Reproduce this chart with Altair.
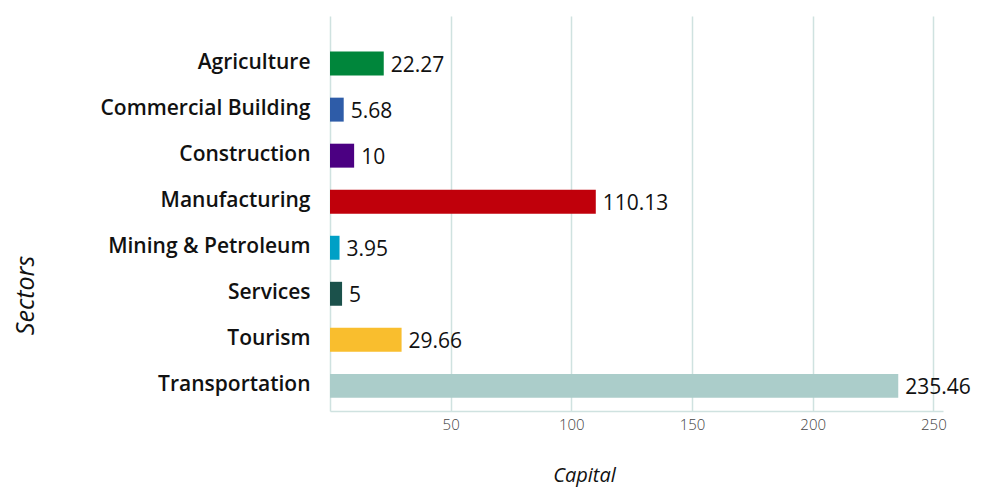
import altair as alt
import pandas as pd

sectors = ["Agriculture", "Commercial Building", "Construction", "Manufacturing",
           "Mining & Petroleum", "Services", "Tourism", "Transportation"]
capital = [22.27, 5.68, 10, 110.13, 3.95, 5, 29.66, 235.46]
labels = ["22.27", "5.68", "10", "110.13", "3.95", "5", "29.66", "235.46"]
colors = ["#00863b", "#2e5ca8", "#4b0082", "#c0000b", "#00a0c6", "#1b514b", "#f9be2e", "#abcdca"]
x_ticks = [50, 100, 150, 200, 250]

df = pd.DataFrame({"Sector": sectors, "Capital": capital, "Label": labels})

FONT = "Open Sans"
GRID = "#cfe2e0"

y_enc = alt.Y("Sector:N", sort=sectors,
              scale=alt.Scale(paddingInner=0.48, paddingOuter=0.53, align=0.73),
              axis=alt.Axis(title="Sectors", titleFont=FONT, titleFontSize=25,
                            titleFontStyle="italic", titleFontWeight="normal",
                            titleColor="#111", titleX=-292, titleY=279,
                            labelFont=FONT, labelFontSize=21, labelFontWeight=600,
                            labelColor="#111", labelPadding=20, ticks=False,
                            domainColor=GRID, domainWidth=1.5, labelBaseline="middle",
                            labelOffset=-1, labelLimit=400))

x_enc = alt.X("Capital:Q",
              scale=alt.Scale(domain=[0, 254], nice=False),
              axis=alt.Axis(title="Capital", titleFont=FONT, titleFontSize=20,
                            titleFontStyle="italic", titleFontWeight="normal",
                            titleColor="#111", titleX=254, titleY=54,
                            values=x_ticks, labelFont=FONT, labelFontSize=15,
                            labelFontWeight=300, labelColor="#444", labelPadding=6,
                            ticks=False, domainColor=GRID, domainWidth=1.5,
                            grid=True, gridColor=GRID, gridWidth=1.5))

bars = alt.Chart(df).mark_bar().encode(
    x=x_enc,
    y=y_enc,
    color=alt.Color("Sector:N", scale=alt.Scale(domain=sectors, range=colors), legend=None),
)

text = alt.Chart(df).mark_text(align="left", baseline="middle", dx=7, dy=2,
                               font=FONT, fontSize=21, color="#111").encode(
    x=alt.X("Capital:Q"),
    y=alt.Y("Sector:N", sort=sectors),
    text="Label:N",
)

chart = alt.layer(bars, text).properties(
    width=613, height=395,
    padding={"left": 5, "top": 8, "right": 2, "bottom": 6},
).configure_view(stroke=None)

chart.save("out.html", embed_options={"renderer": "svg", "actions": False})
